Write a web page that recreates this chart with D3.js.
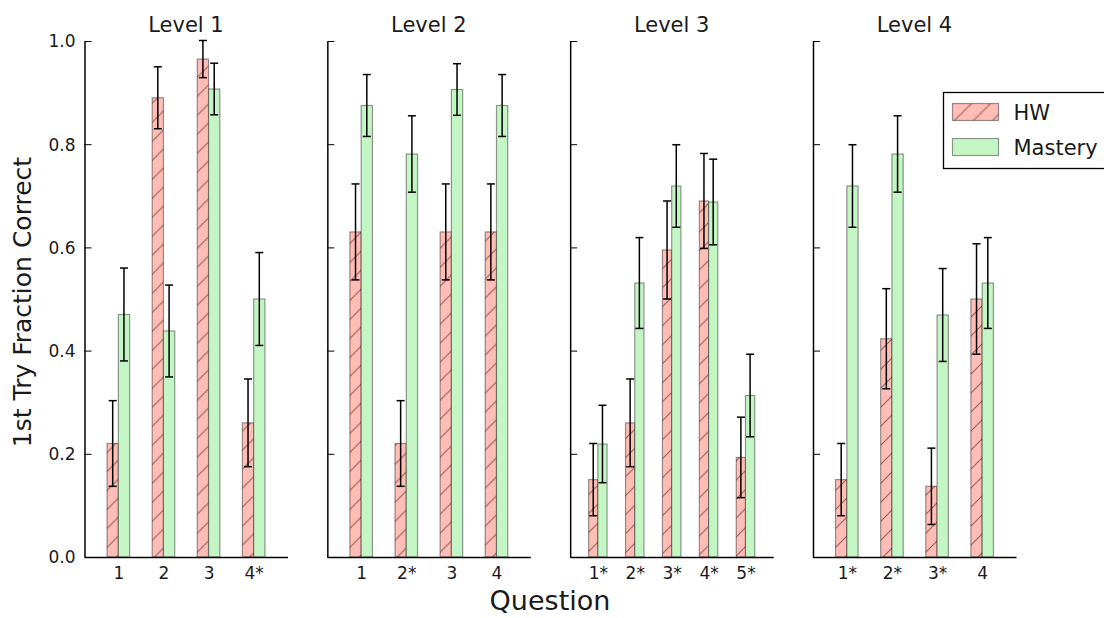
<!DOCTYPE html>
<html>
<head>
<meta charset="utf-8">
<script src="https://cdn.jsdelivr.net/npm/d3@7"></script>
<style>
  body { margin: 0; background: #fff; }
  text { font-family: "DejaVu Sans", sans-serif; fill: #1a1a1a; }
</style>
</head>
<body>
<script>
// data
const levels = ['Level 1', 'Level 2', 'Level 3', 'Level 4'];
const questions = [
  ['1', '2', '3', '4*'],
  ['1', '2*', '3', '4'],
  ['1*', '2*', '3*', '4*', '5*'],
  ['1*', '2*', '3*', '4']
];
const hwMean = [
  [0.22, 0.89, 0.965, 0.26],
  [0.63, 0.22, 0.63, 0.63],
  [0.15, 0.26, 0.595, 0.69, 0.193],
  [0.15, 0.423, 0.137, 0.50]
];
const hwErr = [
  [0.083, 0.06, 0.036, 0.085],
  [0.093, 0.083, 0.093, 0.093],
  [0.07, 0.085, 0.095, 0.092, 0.078],
  [0.07, 0.097, 0.074, 0.107]
];
const masteryMean = [
  [0.47, 0.438, 0.907, 0.50],
  [0.875, 0.781, 0.906, 0.875],
  [0.219, 0.531, 0.719, 0.688, 0.313],
  [0.719, 0.781, 0.469, 0.531]
];
const masteryErr = [
  [0.09, 0.089, 0.05, 0.09],
  [0.06, 0.074, 0.05, 0.06],
  [0.075, 0.088, 0.08, 0.083, 0.08],
  [0.08, 0.074, 0.09, 0.088]
];
const yTicks = [0, 0.2, 0.4, 0.6, 0.8, 1.0];
const seriesNames = ['HW', 'Mastery'];

const width = 1104, height = 618;
const panelW = 203;
const barW = 0.25;
const hwFill = '#ffbdb6', masteryFill = '#c4f5c4';
const edge = 'rgba(0,0,0,0.4)';

const svg = d3.select('body').append('svg')
  .attr('width', width)
  .attr('height', height);

// hatch pattern for HW bars
const defs = svg.append('defs');
const s = 19;
const pat = defs.append('pattern')
  .attr('id', 'hatch')
  .attr('patternUnits', 'userSpaceOnUse')
  .attr('width', s).attr('height', s);
pat.append('rect').attr('width', s).attr('height', s).attr('fill', hwFill);
pat.append('path')
  .attr('d', `M-2,2 l4,-4 M0,${s} l${s},${-s} M${s - 2},${s + 2} l4,-4`)
  .attr('stroke', 'rgba(60,20,20,0.55)')
  .attr('stroke-width', 1.1);

const y = d3.scaleLinear().domain([0, 1]).range([557, 41]);
const panelX = d3.scaleLinear().domain([0, 3]).range([84.5, 813]);

levels.forEach((lev, p) => {
  const n = questions[p].length;
  const x = d3.scaleLinear().domain([0.25, n + 0.75]).range([0, panelW]);
  const g = svg.append('g').attr('transform', `translate(${panelX(p)},0)`);

  const rows = questions[p].map((q, i) => ({
    pos: i + 1,
    hw: hwMean[p][i], hwE: hwErr[p][i],
    m: masteryMean[p][i], mE: masteryErr[p][i]
  }));

  // HW bars
  g.selectAll('.hw').data(rows).enter().append('rect')
    .attr('class', 'hw')
    .attr('x', d => x(d.pos - barW))
    .attr('width', d => x(d.pos) - x(d.pos - barW))
    .attr('y', d => y(d.hw))
    .attr('height', d => y(0) - y(d.hw))
    .attr('fill', 'url(#hatch)')
    .attr('stroke', edge).attr('stroke-width', 1.2);

  // Mastery bars
  g.selectAll('.ms').data(rows).enter().append('rect')
    .attr('class', 'ms')
    .attr('x', d => x(d.pos))
    .attr('width', d => x(d.pos + barW) - x(d.pos))
    .attr('y', d => y(d.m))
    .attr('height', d => y(0) - y(d.m))
    .attr('fill', masteryFill)
    .attr('stroke', edge).attr('stroke-width', 1.2);

  // error bars
  const errs = [];
  rows.forEach(d => {
    errs.push({ cx: x(d.pos - barW / 2), v: d.hw, e: d.hwE });
    errs.push({ cx: x(d.pos + barW / 2), v: d.m, e: d.mE });
  });
  const eg = g.selectAll('.err').data(errs).enter().append('g').attr('class', 'err')
    .attr('stroke', '#000').attr('stroke-width', 1.5);
  eg.append('line')
    .attr('x1', d => d.cx).attr('x2', d => d.cx)
    .attr('y1', d => y(d.v - d.e)).attr('y2', d => y(d.v + d.e));
  eg.append('line')
    .attr('x1', d => d.cx - 4).attr('x2', d => d.cx + 4)
    .attr('y1', d => y(d.v + d.e)).attr('y2', d => y(d.v + d.e));
  eg.append('line')
    .attr('x1', d => d.cx - 4).attr('x2', d => d.cx + 4)
    .attr('y1', d => y(d.v - d.e)).attr('y2', d => y(d.v - d.e));

  // y axis (inward ticks)
  const yAxis = d3.axisLeft(y).tickValues(yTicks).tickSizeInner(-7).tickSizeOuter(0)
    .tickFormat(p === 0 ? d3.format('.1f') : () => '');
  const ya = g.append('g').call(yAxis);
  ya.select('.domain').attr('stroke', '#000').attr('stroke-width', 1.5);
  ya.selectAll('.tick line').attr('stroke', '#000').attr('stroke-width', 1);
  ya.selectAll('.tick text')
    .attr('x', -9).attr('dy', '0.35em')
    .style('font-size', '17px');

  // x axis
  const xAxis = d3.axisBottom(x).tickValues(rows.map(d => d.pos))
    .tickFormat((d, i) => questions[p][i]).tickSize(0).tickPadding(10);
  const xa = g.append('g').attr('transform', `translate(0,${y(0)})`).call(xAxis);
  xa.select('.domain').attr('stroke', '#000').attr('stroke-width', 1.5);
  xa.selectAll('.tick text').style('font-size', '17px');

  // panel title
  g.append('text')
    .attr('x', panelW / 2).attr('y', 32)
    .attr('text-anchor', 'middle')
    .style('font-size', '21px')
    .text(lev);
});

// axis titles
svg.append('text')
  .attr('transform', 'translate(31,302) rotate(-90)')
  .attr('text-anchor', 'middle')
  .style('font-size', '25px')
  .text('1st Try Fraction Correct');

svg.append('text')
  .attr('x', 550).attr('y', 610)
  .attr('text-anchor', 'middle')
  .style('font-size', '27px')
  .text('Question');

// legend
const lg = svg.append('g').attr('transform', 'translate(943.5,92.5)');
lg.append('rect')
  .attr('width', 180).attr('height', 76)
  .attr('fill', '#fff').attr('stroke', '#000').attr('stroke-width', 1.3);
const items = lg.selectAll('.item').data(seriesNames).enter().append('g')
  .attr('transform', (d, i) => `translate(9,${11 + i * 35})`);
items.append('rect')
  .attr('width', 46).attr('height', 17)
  .attr('fill', (d, i) => i === 0 ? 'url(#hatch)' : masteryFill)
  .attr('stroke', edge).attr('stroke-width', 1.2);
items.append('text')
  .attr('x', 61).attr('y', 16)
  .style('font-size', '21px')
  .text(d => d);
</script>
</body>
</html>
